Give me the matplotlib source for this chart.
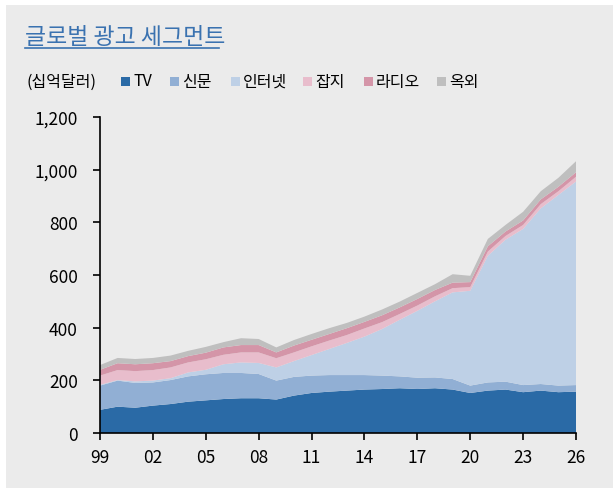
import numpy as np
import matplotlib.pyplot as plt
from matplotlib.patches import Rectangle
from matplotlib.lines import Line2D
from matplotlib.ticker import FuncFormatter

plt.rcParams['font.family'] = ['Noto Sans CJK KR', 'DejaVu Sans']

years = list(range(1999, 2027))
series_names = ['TV', '신문', '인터넷', '잡지', '라디오', '옥외']
tv = [88, 100, 96, 104, 110, 119, 124, 129, 132, 132, 127, 142, 152, 157,
      161, 165, 167, 170, 167, 170, 165, 152, 161, 165, 155, 161, 155, 157]
newspaper = [92, 99, 94, 88, 91, 96, 99, 99, 96, 92, 72, 71, 66, 63,
             59, 55, 51, 45, 43, 41, 40, 28, 31, 30, 27, 25, 25, 25]
internet = [3, 2, 6, 7, 7, 15, 17, 33, 40, 42, 50, 60, 78, 99,
            122, 146, 177, 215, 254, 289, 329, 360, 481, 539, 593, 667, 724, 773]
magazine = [35, 38, 39, 40, 41, 38, 40, 36, 38, 40, 35, 33, 33, 32,
            30, 31, 26, 22, 20, 19, 16, 14, 16, 14, 15, 16, 14, 18]
radio = [22, 26, 26, 26, 24, 24, 25, 28, 28, 28, 22, 26, 25, 25,
         26, 25, 26, 25, 25, 24, 21, 19, 20, 17, 17, 18, 17, 17]
outdoor = [18, 20, 20, 20, 21, 20, 22, 20, 26, 23, 19, 21, 22, 22,
           20, 20, 22, 22, 23, 22, 32, 24, 28, 25, 33, 31, 34, 42]
colors = ['#2a6aa6', '#91afd4', '#bed0e6', '#e8bdcc', '#d495a8', '#bfbfbf']
xtick_years = list(range(1999, 2027, 3))
title = '글로벌 광고 세그먼트'
unit_label = '(십억달러)'

bg = '#ebebeb'
fig = plt.figure(figsize=(6.13, 4.89), dpi=100)
fig.patch.set_facecolor('white')
fig.patches.append(Rectangle((6 / 613, 0), 1, 483 / 489, transform=fig.transFigure,
                             facecolor=bg, edgecolor='none', zorder=-10))

ax = fig.add_axes([100 / 613, 1 - 434 / 489, 476 / 613, 316 / 489])
ax.set_facecolor(bg)
ax.stackplot(years, tv, newspaper, internet, magazine, radio, outdoor,
             colors=colors, linewidth=0)
ax.set_xlim(1999, 2026)
ax.set_ylim(0, 1200)
ax.set_yticks(range(0, 1201, 200))
ax.yaxis.set_major_formatter(FuncFormatter(lambda v, p: f'{int(v):,}'))
ax.set_xticks(xtick_years)
ax.set_xticklabels([f'{y % 100:02d}' for y in xtick_years])
for s in ['top', 'right']:
    ax.spines[s].set_visible(False)
for s in ['left', 'bottom']:
    ax.spines[s].set_linewidth(1.2)
    ax.spines[s].set_color('black')
ax.tick_params(axis='y', length=5, width=1.2, pad=11, labelsize=12.5)
ax.tick_params(axis='x', length=5, width=1.2, pad=6, labelsize=12.5)

# title with underline
fig.text(25 / 613, 1 - 44 / 489, title, fontsize=16.5, color='#3a72b0',
         ha='left', va='baseline')
fig.add_artist(Line2D([25 / 613, 219 / 613], [1 - 48.5 / 489] * 2,
                      transform=fig.transFigure, color='#3a72b0', lw=1.2))

# legend row
ly = 1 - 82 / 489
fig.text(26 / 613, ly, unit_label, fontsize=11.5, ha='left', va='center')
square_x = [121, 170, 231, 303, 364, 437]
for name, c, sx in zip(series_names, colors, square_x):
    fig.patches.append(Rectangle((sx / 613, 1 - 86.5 / 489), 8.5 / 613, 9 / 489,
                                 transform=fig.transFigure, facecolor=c,
                                 edgecolor='none'))
    fig.text((sx + 12) / 613, ly, name, fontsize=11.5, ha='left', va='center')

fig.savefig('out.png', dpi=100, facecolor=fig.get_facecolor())
